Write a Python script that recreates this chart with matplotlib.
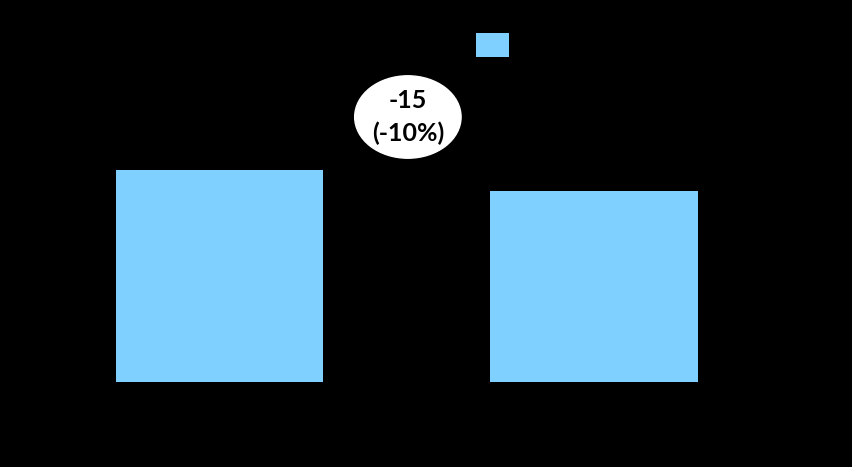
import matplotlib
matplotlib.use("Agg")
import matplotlib.pyplot as plt

categories = ["Before", "After"]
values = [150, 135]
series_label = "Value"
diff = values[1] - values[0]
pct = diff / values[0] * 100

W, H = 853, 467
fig = plt.figure(figsize=(W / 100, H / 100), dpi=100, facecolor="black")
ax = fig.add_axes([0, 85 / H, 1, (H - 85) / H])
ax.set_facecolor("black")

x = list(range(len(categories)))
ax.bar(x, values, width=0.553, color="#7fcfff", label=series_label)

px_per_x = 374.5
ax.set_xlim(-219.5 / px_per_x, (W - 219.5) / px_per_x)
px_per_y = 212 / 150
ax.set_ylim(0, (H - 85) / px_per_y)

ax.set_xticks(x)
ax.set_xticklabels(categories, color="black")
ax.tick_params(colors="black", length=0)
ax.set_yticks([])
for s in ax.spines.values():
    s.set_visible(False)

ax.text(0.503, 187.5, f"{diff:d}\n({pct:.0f}%)", ha="center", va="center",
        fontsize=18, fontweight="bold", family="Lato", color="black",
        linespacing=1.45,
        bbox=dict(boxstyle="ellipse,pad=0.06", fc="white", ec="white"))

leg = fig.legend(loc="upper left", bbox_to_anchor=(476 / W, (H - 33) / H),
                 frameon=False, fontsize=12, handlelength=1.98, handleheight=1.84,
                 borderpad=0, borderaxespad=0)
for t in leg.get_texts():
    t.set_color("black")

fig.savefig("out.png", dpi=100, facecolor="black")
